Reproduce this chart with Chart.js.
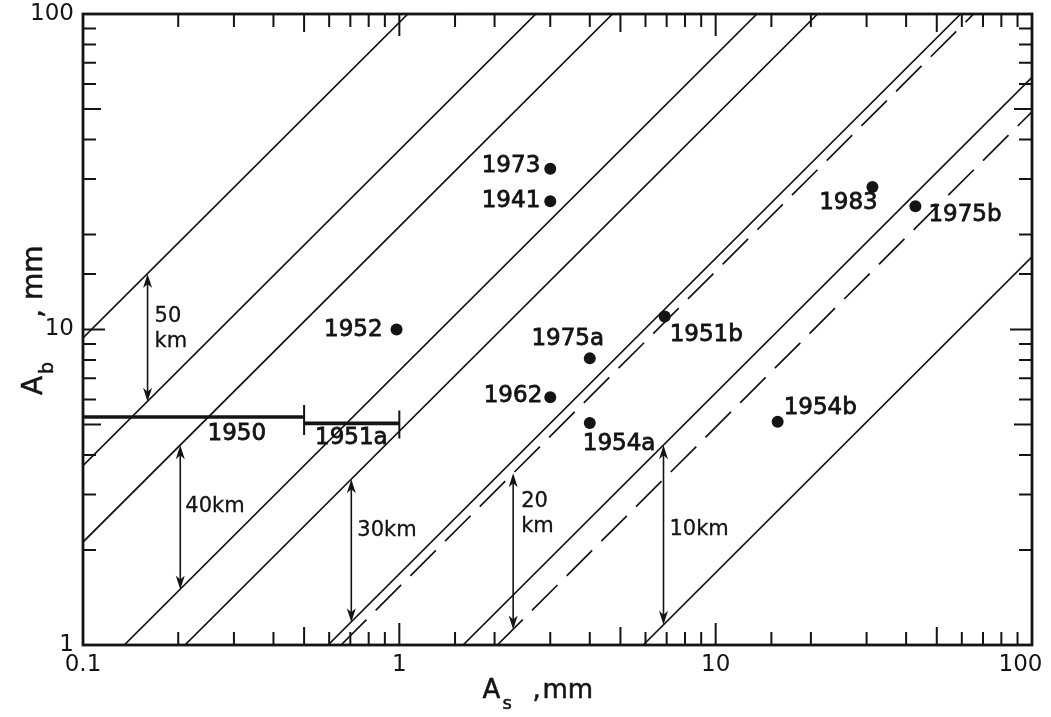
<!DOCTYPE html>
<html>
<head>
<meta charset="utf-8">
<script src="https://cdn.jsdelivr.net/npm/chart.js@4.4.0/dist/chart.umd.min.js"></script>
<style>
  html, body { margin: 0; padding: 0; background: #fff; }
  #wrap { width: 1051px; height: 717px; }
</style>
</head>
<body>
<div id="wrap"><canvas id="chart" width="1051" height="717"></canvas></div>
<script>
// events: surface-wave amplitude As and body-wave amplitude Ab, in mm
const eventNames = ['1973', '1941', '1952', '1975a', '1951b', '1962', '1954a', '1954b', '1983', '1975b'];
const eventAs = [3.0, 3.0, 0.98, 4.0, 6.9, 3.0, 4.0, 15.7, 31.3, 42.8];
const eventAb = [32.3, 25.5, 10.0, 8.1, 11.0, 6.1, 5.05, 5.1, 28.3, 24.6];

// events only known as a range of As
const rangeNames = ['1950', '1951a'];
const rangeAsFrom = [0.1, 0.5];
const rangeAsTo = [0.5, 1.0];
const rangeAb = [5.28, 5.04];

// depth lines, end points (As, Ab)
const solidFromAs = [0.1, 0.1, 0.1, 0.135, 0.21, 0.595, 1.59, 5.9];
const solidFromAb = [9.4, 3.7, 2.12, 1, 1, 1, 1, 1];
const solidToAs = [1.064, 2.70, 4.72, 13.5, 21, 59.5, 100, 100];
const solidToAb = [100, 100, 100, 100, 100, 100, 63, 17];
const dashedFromAs = [0.654, 2.04];
const dashedFromAb = [1, 1];
const dashedToAs = [65.4, 100];
const dashedToAb = [100, 49];

// depth bands marked with double arrows
const depthNames = [['50', 'km'], ['40km'], ['30km'], ['20', 'km'], ['10km']];
const depthAs = [0.16, 0.203, 0.705, 2.29, 6.84];
const depthTop = [15.0, 4.3, 3.35, 3.5, 4.3];
const depthBottom = [5.9, 1.5, 1.18, 1.12, 1.16];

const xTickLabels = [0.1, 1, 10, 100];
const yTickLabels = [1, 10, 100];

const ink = '#141414';
const fontFamily = '"DejaVu Sans", sans-serif';

// label placement: [align, dx, dy] from the marker in pixels
const eventLabelPos = [
  ['right', -10, -3], ['right', -10, 0], ['right', -14, 1], ['center', -22, -19],
  ['left', 5, 19], ['right', -8, -1], ['left', -7, 21], ['left', 6, -14],
  ['center', -24, 16], ['left', 13, 9]
];
const rangeLabelPos = [['right', -38, 17], ['center', -48, 15]];
const depthLabelPos = [[7, -9], [5, -11], [6, -20], [8, -37], [6, -5]];

function segment(x0, y0, x1, y1, dash, width) {
  return {
    data: [{ x: x0, y: y0 }, { x: x1, y: y1 }],
    showLine: true,
    borderColor: ink,
    borderWidth: width,
    borderDash: dash,
    pointRadius: 0,
    fill: false
  };
}

const datasets = [];
solidFromAs.forEach((v, i) => datasets.push(segment(v, solidFromAb[i], solidToAs[i], solidToAb[i], [], 1.7)));
dashedFromAs.forEach((v, i) => datasets.push(segment(v, dashedFromAb[i], dashedToAs[i], dashedToAb[i], [36, 13], 1.7)));
rangeAsFrom.forEach((v, i) => datasets.push(segment(v, rangeAb[i], rangeAsTo[i], rangeAb[i], [], 3.6)));
datasets.push({
  data: eventAs.map((v, i) => ({ x: v, y: eventAb[i] })),
  pointRadius: 6,
  backgroundColor: ink,
  borderWidth: 0,
  showLine: false
});

function isDecade(v) {
  const l = Math.log10(v);
  return Math.abs(l - Math.round(l)) < 1e-6;
}
function mantissa(v) {
  const e = Math.floor(Math.log10(v) + 1e-9);
  return Math.round(v / Math.pow(10, e));
}
function tickText(v, list, last) {
  const n = +(+v).toPrecision(6);
  if (!isDecade(v) || !list.includes(n)) return '';
  // the right-most label is nudged left so it stays on the canvas
  return n === last ? String(n) + '\u2002\u2002' : String(n);
}

// inward tick marks on all four sides plus the frame
const framePlugin = {
  id: 'frame',
  afterDatasetsDraw(chart) {
    const { ctx, chartArea: a, scales: { x, y } } = chart;
    const len = v => { const m = mantissa(v); return m === 1 ? 22 : m === 5 ? 18 : 13; };
    ctx.save();
    ctx.strokeStyle = ink;
    ctx.lineWidth = 2;
    ctx.beginPath();
    x.ticks.forEach(t => {
      const p = x.getPixelForValue(t.value);
      if (p < a.left + 2 || p > a.right - 2) return;
      const l = len(t.value);
      ctx.moveTo(p, a.bottom); ctx.lineTo(p, a.bottom - l);
      ctx.moveTo(p, a.top); ctx.lineTo(p, a.top + l);
    });
    y.ticks.forEach(t => {
      const p = y.getPixelForValue(t.value);
      if (p < a.top + 2 || p > a.bottom - 2) return;
      const l = len(t.value);
      ctx.moveTo(a.left, p); ctx.lineTo(a.left + l, p);
      ctx.moveTo(a.right, p); ctx.lineTo(a.right - l, p);
    });
    ctx.stroke();
    ctx.lineWidth = 2.8;
    ctx.strokeRect(a.left, a.top, a.right - a.left, a.bottom - a.top);
    ctx.restore();
  }
};

function arrowHead(ctx, x, y, dir) {
  // dir = -1 points up, 1 points down
  ctx.beginPath();
  ctx.moveTo(x, y);
  ctx.lineTo(x - 4.5, y - dir * 14);
  ctx.lineTo(x, y - dir * 10);
  ctx.lineTo(x + 4.5, y - dir * 14);
  ctx.closePath();
  ctx.fill();
}

function boldText(ctx, s, px, py) {
  ctx.fillText(s, px, py);
  ctx.strokeText(s, px, py);
}

// annotations: event names, range bar caps, depth arrows, axis titles
const annotationPlugin = {
  id: 'annotations',
  afterDraw(chart) {
    const { ctx, chartArea: a, scales: { x, y } } = chart;
    ctx.save();
    ctx.fillStyle = ink;
    ctx.strokeStyle = ink;
    ctx.textBaseline = 'middle';

    // event labels
    ctx.font = '23px ' + fontFamily;
    ctx.lineWidth = 0.8;
    eventNames.forEach((name, i) => {
      const [align, dx, dy] = eventLabelPos[i];
      ctx.textAlign = align;
      boldText(ctx, name, x.getPixelForValue(eventAs[i]) + dx, y.getPixelForValue(eventAb[i]) + dy);
    });

    // range bar end caps and names
    ctx.lineWidth = 2;
    const cap0 = x.getPixelForValue(rangeAsTo[0]);
    const cap1 = x.getPixelForValue(rangeAsTo[1]);
    const b0 = y.getPixelForValue(rangeAb[0]);
    const b1 = y.getPixelForValue(rangeAb[1]);
    ctx.beginPath();
    ctx.moveTo(cap0, b0 - 12); ctx.lineTo(cap0, b0 + 18);
    ctx.moveTo(cap1, b1 - 13); ctx.lineTo(cap1, b1 + 15);
    ctx.stroke();
    ctx.lineWidth = 0.8;
    rangeNames.forEach((name, i) => {
      const [align, dx, dy] = rangeLabelPos[i];
      ctx.textAlign = align;
      boldText(ctx, name, x.getPixelForValue(rangeAsTo[i]) + dx, y.getPixelForValue(rangeAb[i]) + dy);
    });

    // depth arrows
    ctx.font = '21px ' + fontFamily;
    ctx.textAlign = 'left';
    depthAs.forEach((v, i) => {
      const px = x.getPixelForValue(v);
      const top = y.getPixelForValue(depthTop[i]);
      const bot = y.getPixelForValue(depthBottom[i]);
      ctx.lineWidth = 1.6;
      ctx.beginPath();
      ctx.moveTo(px, top + 8);
      ctx.lineTo(px, bot - 8);
      ctx.stroke();
      arrowHead(ctx, px, top, -1);
      arrowHead(ctx, px, bot, 1);
      const [dx, dy] = depthLabelPos[i];
      const lines = depthNames[i];
      const mid = (top + bot) / 2 + dy;
      ctx.lineWidth = 0.3;
      lines.forEach((s, k) => {
        boldText(ctx, s, px + dx, mid + (k - (lines.length - 1) / 2) * 25);
      });
    });

    // axis titles with subscripts
    ctx.textBaseline = 'alphabetic';
    ctx.textAlign = 'left';
    ctx.lineWidth = 0.5;
    const cx = (a.left + a.right) / 2 - 75;
    const by = 698;
    ctx.font = '26px ' + fontFamily;
    boldText(ctx, 'A', cx, by);
    boldText(ctx, ',', cx + 50, by);
    boldText(ctx, 'mm', cx + 60, by);
    ctx.font = '18px ' + fontFamily;
    boldText(ctx, 's', cx + 20, by + 11);

    ctx.translate(42, 395);
    ctx.rotate(-Math.PI / 2);
    ctx.font = '28px ' + fontFamily;
    boldText(ctx, 'A', 0, 0);
    boldText(ctx, ',', 77, 0);
    boldText(ctx, 'mm', 95, 0);
    ctx.font = '19px ' + fontFamily;
    boldText(ctx, 'b', 21, 11);
    ctx.restore();
  }
};

const tickFont = { family: fontFamily, size: 23 };

new Chart(document.getElementById('chart'), {
  type: 'scatter',
  data: { datasets },
  options: {
    responsive: false,
    animation: false,
    layout: { padding: { top: 14, right: 19, left: 0, bottom: 0 } },
    plugins: { legend: { display: false }, tooltip: { enabled: false } },
    scales: {
      x: {
        type: 'logarithmic',
        min: 0.1,
        max: 100,
        grid: { display: false, drawTicks: false },
        border: { display: false },
        ticks: {
          autoSkip: false,
          maxRotation: 0,
          padding: 6,
          color: ink,
          font: tickFont,
          callback: v => tickText(v, xTickLabels, 100)
        },
        afterFit: s => { s.height = 72; s.paddingLeft = 0; s.paddingRight = 0; }
      },
      y: {
        type: 'logarithmic',
        min: 1,
        max: 100,
        grid: { display: false, drawTicks: false },
        border: { display: false },
        ticks: {
          autoSkip: false,
          padding: 9,
          color: ink,
          font: tickFont,
          callback: v => tickText(v, yTickLabels, null)
        },
        afterFit: s => { s.width = 83; s.paddingTop = 0; s.paddingBottom = 0; }
      }
    }
  },
  plugins: [framePlugin, annotationPlugin]
});
</script>
</body>
</html>
